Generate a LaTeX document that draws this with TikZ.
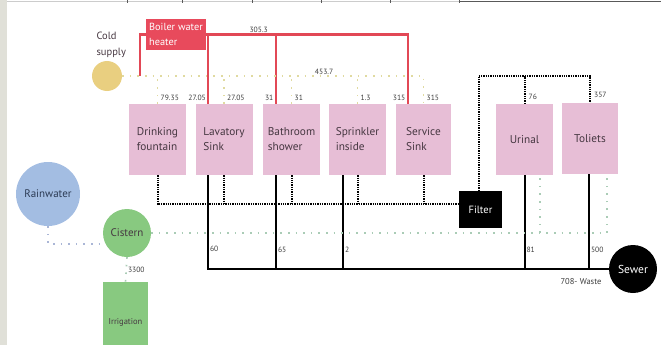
\documentclass[tikz,border=0pt]{standalone}
\usepackage{fontspec}
\setmainfont{PT Sans}
\usetikzlibrary{backgrounds}
\definecolor{framegrey}{RGB}{224,224,216}
\definecolor{fixpink}{RGB}{231,190,214}
\definecolor{fixtext}{RGB}{70,55,65}
\definecolor{boilred}{RGB}{232,74,92}
\definecolor{hotred}{RGB}{226,72,86}
\definecolor{coldyel}{RGB}{233,207,128}
\definecolor{coldline}{RGB}{224,218,160}
\definecolor{rainblue}{RGB}{163,189,226}
\definecolor{raintext}{RGB}{45,60,85}
\definecolor{cistgreen}{RGB}{136,201,128}
\definecolor{reclline}{RGB}{170,204,182}
\definecolor{rainline}{RGB}{170,182,214}
\definecolor{lbltext}{RGB}{60,60,60}

\begin{document}
\begin{tikzpicture}[x=1pt,y=-1pt,font=\fontsize{10.5}{16}\selectfont,
   fixture/.style={fill=fixpink,minimum width=57pt,minimum height=71pt,inner sep=0pt,align=left,text=fixtext,
                   font=\fontsize{11.3}{15}\selectfont},
   lbl/.style={font=\fontsize{7.6}{9}\selectfont,text=lbltext,inner sep=1pt},
   hotpipe/.style={hotred,line width=2.2pt},
   coldpipe/.style={coldline,line width=1.8pt,dash pattern=on 1.6pt off 6pt},
   greypipe/.style={black,line width=2pt,dash pattern=on 1.3pt off 1pt},
   wastepipe/.style={black,line width=2pt},
   reclpipe/.style={reclline,line width=1.6pt,dash pattern=on 1.6pt off 6pt},
   rainpipe/.style={rainline,line width=1.6pt,dash pattern=on 1.6pt off 6pt}]
  \clip (0,0) rectangle (661,345);
  % page edge
  \fill[framegrey] (0,0) rectangle (7,345);
  \draw[gray!40,line width=0.6pt] (7,1.5) -- (661,1.5);
  \draw[gray!70!black,line width=1pt] (459,1.5) -- (661,1.5);
  \foreach \x in {127,182,252,321,390,459}{\draw[gray!70!black,line width=0.8pt] (\x,0) -- (\x,3.5);}
  % sources
  \node[circle,fill=coldyel,minimum size=30pt,inner sep=0pt] (cold) at (107,76){};
  \node[anchor=west,align=left,text=fixtext] (coldlbl) at (93,45){Cold\\supply};
  \node[fill=boilred,text=white,minimum width=60pt,minimum height=31pt,inner sep=0.5pt,align=left,
        font=\fontsize{10.3}{15}\selectfont] (boiler) at (176,34.5){Boiler water\\heater};
  \node[circle,fill=rainblue,minimum size=64pt,inner sep=0pt,text=raintext,
        font=\fontsize{11}{13}\selectfont] (rain) at (48,194){Rainwater};
  \node[circle,fill=cistgreen,minimum size=48pt,inner sep=0pt,text=fixtext,
        font=\fontsize{11}{13}\selectfont] (cistern) at (127,233){Cistern};
  \node[fill=cistgreen,minimum width=45pt,minimum height=80pt,inner sep=0pt,text=fixtext,
        font=\fontsize{8.5}{10}\selectfont] (irrig) at (125.5,322){Irrigation};
  % fixtures
  \node[fixture] (fount) at (157.5,139.5){Drinking\\fountain};
  \node[fixture] (lav) at (224,139.5){Lavatory\\Sink};
  \node[fixture] (bath) at (291.5,139.5){Bathroom\\shower};
  \node[fixture] (spr) at (357.5,139.5){Sprinkler\\inside};
  \node[fixture,minimum width=55pt] (serv) at (423.5,139.5){Service\\Sink};
  \node[fixture] (uri) at (524.5,139.5){Urinal};
  \node[fixture,minimum width=56pt] (toil) at (590,138.5){Toliets};
  % treatment and outlet
  \node[fill=black,text=white,minimum width=43pt,minimum height=37pt,inner sep=0pt,
        font=\fontsize{10.5}{12}\selectfont] (filter) at (480.5,209.5){Filter};
  \node[circle,fill=black,text=white,minimum size=48pt,inner sep=0pt,
        font=\fontsize{11.5}{13}\selectfont] (sewer) at (633,269){Sewer};
  \node[lbl,font=\fontsize{8.5}{10}\selectfont] (waste) at (581,282){708- Waste};
  \coordinate (hotin) at (140,76);
  \coordinate (gw) at ([yshift=5.5pt]filter.west);
  \begin{pgfonlayer}{background}
  % hot water
  \draw[hotpipe] (hotin) |- (boiler.west);
  \draw[hotpipe] (boiler.east) -| ([xshift=-15.5pt]serv.north) node[lbl,above,pos=0.13] (h305){305.3};
  \draw[hotpipe] ([xshift=-16pt]lav.north) -- ([xshift=-16pt]lav.north |- boiler.east);
  \draw[hotpipe] ([xshift=-15.5pt]bath.north) -- ([xshift=-15.5pt]bath.north |- boiler.east);
  % cold supply
  \draw[coldpipe] (cold.east) -| (serv.north) node[lbl,above,pos=0.335] (c453){453.7};
  \foreach \f in {fount,lav,bath,spr}{\draw[coldpipe] (\f.north) -- (\f.north |- cold.east);}
  % greywater to filter and back
  \draw[greypipe] (fount.south) |- (gw);
  \foreach \f in {lav,bath,spr,serv}{\draw[greypipe] (\f.south) -- (\f.south |- gw);}
  \draw[greypipe] ([xshift=-2pt]filter.north) |- ([xshift=-2pt]filter.north |- cold.east) -| (toil.north);
  \draw[greypipe] (uri.north) -- (uri.north |- cold.east);
  % waste to sewer
  \draw[wastepipe] ([xshift=-16pt]lav.south) |- (sewer.west) node[lbl,right,pos=0.39] (w60){60};
  \foreach \f/\s/\q in {bath/-15.5/65,spr/-14.5/2,uri/0/81,toil/-1/500}{
    \draw[wastepipe] ([xshift=\s pt]\f.south) -- ([xshift=\s pt]\f.south |- sewer.west)
      node[lbl,right,pos=0.8] (w\q){\q};}
  % rainwater and cistern
  \draw[rainpipe] (rain.south) |- ([yshift=-11pt]cistern.west);
  \draw[reclpipe] (cistern.east) -| ([xshift=17pt,yshift=-3pt]toil.south);
  \draw[reclpipe] ([xshift=15.5pt,yshift=-3pt]uri.south) -- ([xshift=15.5pt]uri.south |- cistern.east);
  \draw[reclpipe] (cistern.south) -- (irrig.north) node[lbl,right,midway] (i3300){3300};
  \end{pgfonlayer}
  % supply labels
  \foreach \f/\q [count=\i] in {fount/79.35,lav/27.05,bath/31,spr/1.3,serv/315}{
    \node[lbl,anchor=west] (c\i) at ([xshift=2pt,yshift=6pt]\f.north){\q};}
  \foreach \f/\q [count=\i] in {lav/27.05,bath/31,serv/315}{
    \node[lbl,anchor=east] (h\i) at ([xshift=-17pt,yshift=6pt]\f.north){\q};}
  \node[lbl,anchor=west] (g76) at ([xshift=3pt,yshift=7pt]uri.north){76};
  \node[lbl,anchor=west] (g357) at ([xshift=3pt,yshift=8pt]toil.north){357};
\end{tikzpicture}
\end{document}
